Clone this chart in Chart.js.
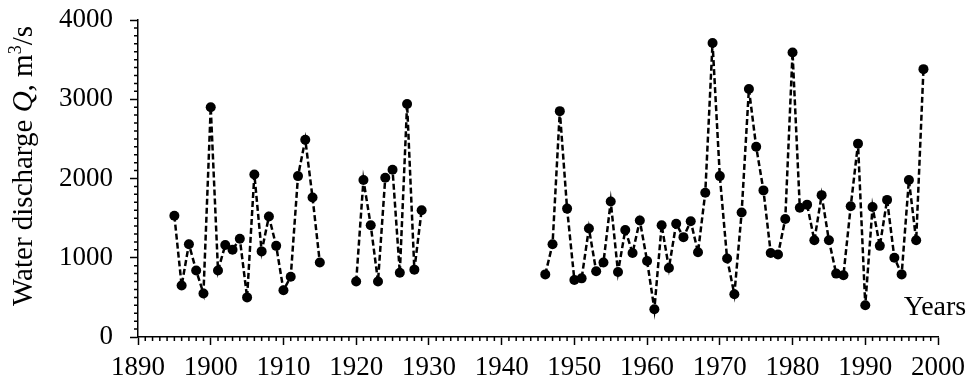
<!DOCTYPE html>
<html>
<head>
    <title>Water discharge</title>
    <script src="https://cdn.jsdelivr.net/npm/chart.js@4.4.1/dist/chart.umd.min.js"></script>
    <style>
        body { margin: 0; background: #fff; }
        .chart-container { width: 976px; height: 384px; }
    </style>
</head>
<body>
    <div class="chart-container">
        <canvas id="qChart"></canvas>
    </div>

    <script>
        // years with data (null marks a break in the record)
        const years = [
            1895, 1896, 1897, 1898, 1899, 1900, 1901, 1902, 1903, 1904, 1905,
            1906, 1907, 1908, 1909, 1910, 1911, 1912, 1913, 1914, 1915, 1916,
            1920, 1921, 1922, 1923, 1924, 1925, 1926, 1927, 1928, 1929, 1930,
            1946, 1947, 1948, 1949, 1950, 1951, 1952, 1953, 1954, 1955, 1956,
            1957, 1958, 1959, 1960, 1961, 1962, 1963, 1964, 1965, 1966, 1967,
            1968, 1969, 1970, 1971, 1972, 1973, 1974, 1975, 1976, 1977, 1978,
            1979, 1980, 1981, 1982, 1983, 1984, 1985, 1986, 1987, 1988, 1989,
            1990, 1991, 1992, 1993, 1994, 1995, 1996, 1997, 1998
        ];
        // water discharge Q, m3/s
        const discharge = [
            1530, 650, 1170, 840, 550, 2900, 840, 1160, 1100, 1240, 500,
            2050, 1080, 1520, 1150, 590, 760, 2030, 2490, 1760, 940, null,
            700, 1980, 1410, 700, 2010, 2110, 810, 2940, 850, 1600, null,
            790, 1170, 2850, 1620, 720, 740, 1370, 830, 940, 1710, 820,
            1350, 1060, 1470, 960, 350, 1410, 870, 1430, 1260, 1460, 1070,
            1820, 3710, 2030, 990, 540, 1570, 3130, 2400, 1850, 1060, 1040,
            1490, 3590, 1630, 1670, 1220, 1790, 1220, 800, 780, 1650, 2440,
            400, 1640, 1150, 1730, 1000, 790, 1980, 1220, 3380
        ];
        const xTicks = [1890, 1900, 1910, 1920, 1930, 1940, 1950, 1960, 1970, 1980, 1990, 2000];
        const yTicks = [0, 1000, 2000, 3000, 4000];

        const serif = "'Liberation Serif', 'Times New Roman', serif";

        // small ticks: every year on x, every 100 on y
        const minorTicks = {
            id: 'minorTicks',
            afterDraw(chart) {
                const ctx = chart.ctx;
                const x = chart.scales.x, y = chart.scales.y;
                ctx.save();
                ctx.strokeStyle = '#000';
                ctx.lineWidth = 1.5;
                ctx.beginPath();
                for (let yr = 1891; yr < 2000; yr++) {
                    if (yr % 10 === 0) continue;
                    const px = x.getPixelForValue(yr);
                    ctx.moveTo(px, y.bottom);
                    ctx.lineTo(px, y.bottom + 4);
                }
                for (let v = 100; v < 4000; v += 100) {
                    if (v % 1000 === 0) continue;
                    const py = y.getPixelForValue(v);
                    ctx.moveTo(x.left, py);
                    ctx.lineTo(x.left - 4, py);
                }
                ctx.stroke();
                ctx.restore();
            }
        };

        // axis titles: rotated y title with italic Q and superscript, "Years" inside plot
        const axisTitles = {
            id: 'axisTitles',
            afterDraw(chart) {
                const ctx = chart.ctx;
                const parts = [
                    ['Water discharge ', 'normal', 29, 0],
                    ['Q', 'italic', 29, 0],
                    [', m', 'normal', 29, 0],
                    ['3', 'normal', 18, -11],
                    ['/s', 'normal', 29, 0]
                ];
                ctx.save();
                ctx.fillStyle = '#000';
                let total = 0;
                parts.forEach(p => {
                    ctx.font = p[1] + ' ' + p[2] + 'px ' + serif;
                    total += ctx.measureText(p[0]).width;
                });
                ctx.translate(32, 166);
                ctx.rotate(-Math.PI / 2);
                ctx.textBaseline = 'alphabetic';
                let pos = -total / 2;
                parts.forEach(p => {
                    ctx.font = p[1] + ' ' + p[2] + 'px ' + serif;
                    ctx.fillText(p[0], pos, p[3]);
                    pos += ctx.measureText(p[0]).width;
                });
                ctx.restore();

                ctx.save();
                ctx.fillStyle = '#000';
                ctx.font = '28px ' + serif;
                ctx.textAlign = 'center';
                ctx.textBaseline = 'middle';
                ctx.fillText('Years', 935, 308);
                ctx.restore();
            }
        };

        new Chart(document.getElementById('qChart'), {
            type: 'line',
            data: {
                labels: years,
                datasets: [{
                    data: discharge,
                    borderColor: '#000',
                    borderWidth: 2.5,
                    borderDash: [6, 3],
                    backgroundColor: '#000',
                    pointBackgroundColor: '#000',
                    pointBorderWidth: 0,
                    pointRadius: 5,
                    tension: 0,
                    spanGaps: false,
                    fill: false
                }]
            },
            options: {
                responsive: true,
                maintainAspectRatio: false,
                animation: false,
                layout: { padding: { left: 48, right: 38, top: 20, bottom: 0 } },
                plugins: {
                    legend: { display: false },
                    tooltip: { enabled: false }
                },
                scales: {
                    x: {
                        type: 'linear',
                        min: 1890,
                        max: 2000,
                        afterBuildTicks: s => { s.ticks = xTicks.map(v => ({ value: v })); },
                        afterFit: s => { s.height = 47; },
                        border: { color: '#000', width: 1.5 },
                        grid: { drawOnChartArea: false, tickLength: 8, tickColor: '#000', tickWidth: 1.5 },
                        ticks: {
                            color: '#000',
                            font: { family: serif, size: 27 },
                            padding: 7,
                            maxRotation: 0,
                            autoSkip: false,
                            callback: v => String(v)
                        }
                    },
                    y: {
                        min: 0,
                        max: 4000,
                        afterBuildTicks: s => { s.ticks = yTicks.map(v => ({ value: v })); },
                        afterFit: s => { s.width = 90; s.paddingTop = 0; s.paddingBottom = 0; },
                        border: { color: '#000', width: 1.5 },
                        grid: { drawOnChartArea: false, tickLength: 8, tickColor: '#000', tickWidth: 1.5 },
                        ticks: {
                            color: '#000',
                            font: { family: serif, size: 27 },
                            padding: 17,
                            callback: v => String(v)
                        }
                    }
                }
            },
            plugins: [minorTicks, axisTitles]
        });
    </script>
</body>
</html>
